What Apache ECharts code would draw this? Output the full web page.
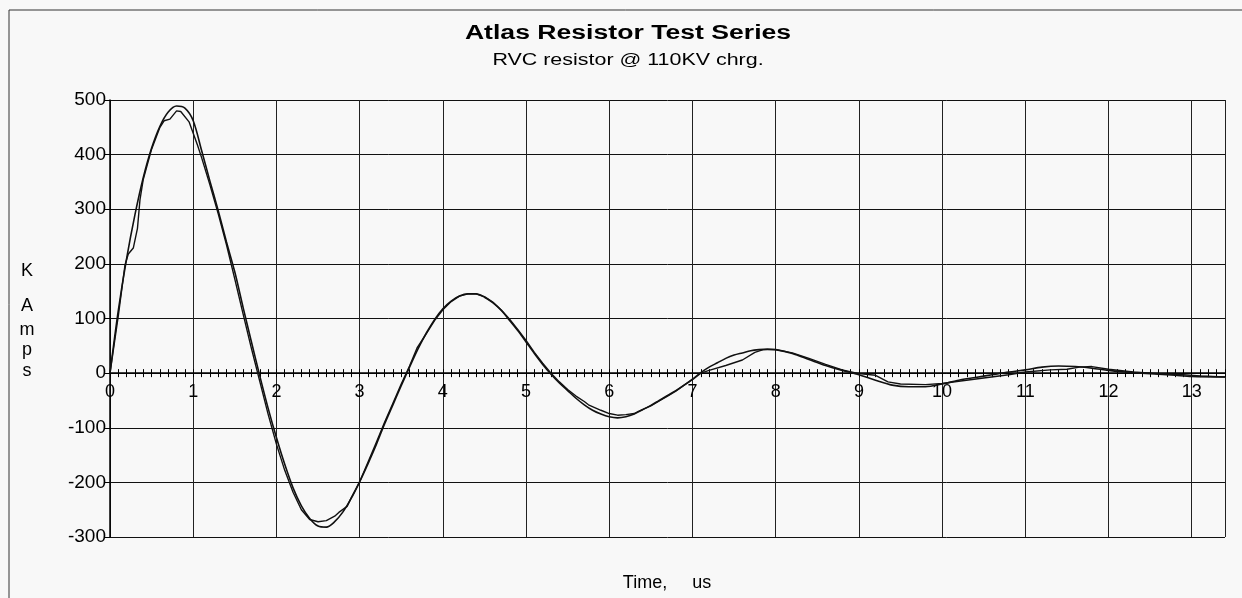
<!DOCTYPE html>
<html><head><meta charset="utf-8">
<script src="https://cdn.jsdelivr.net/npm/echarts@6/dist/echarts.min.js"></script>
<style>html,body{margin:0;padding:0;background:#f8f8f8}#c{width:1242px;height:598px}</style>
</head><body><div id="c"></div>
<script>
const titleText = 'Atlas Resistor Test Series';
const subtitleText = 'RVC resistor @ 110KV chrg.';
const xAxisName = 'Time,     us';
const yAxisNameLetters = ['K', 'A', 'm', 'p', 's'];
const yTickValues = [-300, -200, -100, 0, 100, 200, 300, 400, 500];
const xTickValues = [0, 1, 2, 3, 4, 5, 6, 7, 8, 9, 10, 11, 12, 13];

// Smooth (calculated) trace
const timeCalc = [0, 0.1, 0.2, 0.3, 0.4, 0.5, 0.6, 0.7, 0.8, 0.9,
  1.0, 1.1, 1.2, 1.3, 1.4, 1.5, 1.6, 1.7, 1.8, 1.9,
  2.0, 2.1, 2.2, 2.3, 2.4, 2.5, 2.6, 2.7, 2.8, 2.9,
  3.0, 3.1, 3.2, 3.3, 3.4, 3.5, 3.6, 3.7, 3.8, 3.9,
  4.0, 4.1, 4.2, 4.3, 4.4, 4.5, 4.6, 4.7, 4.8, 4.9,
  5.0, 5.1, 5.2, 5.3, 5.4, 5.5, 5.6, 5.7, 5.8, 5.9,
  6.0, 6.1, 6.2, 6.3, 6.4, 6.5, 6.6, 6.7, 6.8, 6.9,
  7.0, 7.1, 7.2, 7.3, 7.4, 7.5, 7.6, 7.7, 7.8, 7.9,
  8.0, 8.2, 8.4, 8.6, 8.8, 9.0, 9.2, 9.4, 9.6, 9.8,
  10.0, 10.2, 10.4, 10.6, 10.8, 11.0, 11.2, 11.4, 11.6, 11.8,
  12.0, 12.2, 12.4, 12.6, 12.8, 13.0, 13.4];
const ampsCalc = [0, 115, 210, 290, 358, 412, 452, 478, 489, 485,
  462, 408, 352, 298, 240, 185, 120, 57, -5, -64,
  -118, -167, -210, -243, -266, -280, -282, -272, -254, -229,
  -199, -166, -131, -93, -58, -23, 11, 44, 73, 98,
  118, 132, 141, 145, 145, 139, 129, 115, 97, 78,
  57, 36, 16, -2, -18, -32, -46, -58, -68, -75,
  -80, -82, -80, -75, -67, -59, -50, -41, -32, -22,
  -11, 1, 11, 19, 27, 33, 37, 41, 43, 44,
  43, 36, 25, 14, 5, -3, -13, -22, -25, -25,
  -20, -13, -8, -3, 2, 6, 11, 13, 12, 9,
  5, 2, 0, -2, -4, -6, -7];

// Measured trace (with kinks)
const timeMeas = [0, 0.1, 0.18, 0.22, 0.28, 0.33, 0.36, 0.4, 0.5, 0.6,
  0.65, 0.72, 0.8, 0.85, 0.95, 1.05, 1.1, 1.2, 1.3, 1.4,
  1.5, 1.6, 1.7, 1.8, 1.9, 2.0, 2.1, 2.2, 2.3, 2.4,
  2.5, 2.6, 2.7, 2.75, 2.85, 2.9, 3.0, 3.1, 3.2, 3.3,
  3.4, 3.5, 3.6, 3.69, 3.8, 3.9, 4.0, 4.1, 4.2, 4.3,
  4.4, 4.5, 4.6, 4.7, 4.8, 4.9, 5.0, 5.1, 5.2, 5.3,
  5.4, 5.5, 5.6, 5.7, 5.75, 5.9, 6.0, 6.1, 6.2, 6.3,
  6.35, 6.5, 6.6, 6.7, 6.8, 6.9, 7.0, 7.1, 7.2, 7.4,
  7.6, 7.75, 7.85, 8.0, 8.2, 8.4, 8.6, 8.8, 9.0, 9.2,
  9.35, 9.5, 9.8, 10.0, 10.2, 10.5, 10.8, 11.0, 11.3, 11.5,
  11.65, 11.8, 12.0, 12.3, 12.6, 12.9, 13.1, 13.4];
const ampsMeas = [0, 105, 198, 218, 229, 265, 317, 355, 410, 450,
  462, 465, 480, 479, 460, 418, 395, 345, 292, 235,
  172, 108, 45, -15, -75, -130, -178, -218, -250, -268,
  -272, -270, -262, -255, -244, -228, -199, -163, -127, -90,
  -55, -20, 13, 46, 72, 96, 116, 131, 141, 145,
  145, 140, 130, 116, 99, 80, 60, 38, 18, 0,
  -16, -30, -42, -52, -58, -68, -74, -77, -76, -74,
  -70, -60, -51, -42, -33, -22, -12, 0, 5, 14,
  24, 38, 43, 43, 37, 27, 16, 6, -1, -4,
  -16, -20, -21, -19, -15, -9, -3, 2, 6, 7,
  11, 12, 7, 2, -1, -3, -5, -7];

const FONT = '"Liberation Sans", Arial, sans-serif';
const chart = echarts.init(document.getElementById('c'), null, {renderer: 'canvas'});

const GRID = {left: 110, right: 17, top: 100, bottom: 61};
const yNamePos = [271, 306, 330, 350, 371];
const graphics = [
  {type: 'polyline', shape: {points: [[9, 600], [9, 10], [1242, 10]]}, style: {stroke: '#333', lineWidth: 1, fill: null}, silent: true},
  {type: 'text', x: 628, y: 33, scaleX: 1.33, style: {text: titleText, font: 'bold 20px ' + FONT, fill: '#000', align: 'center', verticalAlign: 'middle', textAlign: 'center', textVerticalAlign: 'middle'}},
  {type: 'text', x: 628, y: 61, scaleX: 1.34, style: {text: subtitleText, font: '16px ' + FONT, fill: '#000', align: 'center', verticalAlign: 'middle', textAlign: 'center', textVerticalAlign: 'middle'}},
  {type: 'text', x: 667, y: 583, style: {text: xAxisName, font: '18px ' + FONT, fill: '#000', align: 'center', verticalAlign: 'middle', textAlign: 'center', textVerticalAlign: 'middle'}}
];
yAxisNameLetters.forEach((ch, i) => {
  graphics.push({type: 'text', x: 27, y: yNamePos[i], style: {text: ch, font: '18px ' + FONT, fill: '#000', align: 'center', verticalAlign: 'middle', textAlign: 'center', textVerticalAlign: 'middle'}});
});

function xAxes(offset) {
  return [
    {
      type: 'value', position: 'bottom', offset: offset, min: 0, max: 13.4, interval: 1,
      axisLine: {show: true, onZero: false, lineStyle: {color: '#000', width: 1.5}},
      axisTick: {show: true, length: 4, lineStyle: {color: '#000', width: 1}},
      minorTick: {show: true, splitNumber: 10, length: 4, lineStyle: {color: '#000', width: 1}},
      axisLabel: {show: true, fontSize: 18, color: '#000', margin: 10, fontFamily: FONT, showMaxLabel: false,
        formatter: v => (xTickValues.indexOf(v) >= 0 ? String(v) : '')},
      splitLine: {show: true, lineStyle: {color: '#222', width: 1}},
      minorSplitLine: {show: false}
    },
    {
      type: 'value', position: 'bottom', offset: offset, min: 0, max: 13.4, interval: 1,
      axisLine: {show: false, onZero: false},
      axisTick: {show: true, inside: true, length: 4, lineStyle: {color: '#000', width: 1}},
      minorTick: {show: true, splitNumber: 10, length: 4, lineStyle: {color: '#000', width: 1}},
      axisLabel: {show: false},
      splitLine: {show: false}
    }
  ];
}

const option = {
  backgroundColor: '#f8f8f8',
  animation: false,
  textStyle: {fontFamily: FONT},
  grid: Object.assign({containLabel: false}, GRID),
  xAxis: xAxes(0),
  yAxis: {
    type: 'value', min: yTickValues[0], max: yTickValues[yTickValues.length - 1], interval: 100,
    axisLine: {show: true, onZero: false, lineStyle: {color: '#000', width: 1.5}},
    axisTick: {show: true, length: 5, lineStyle: {color: '#000', width: 1}},
    axisLabel: {fontSize: 19, color: '#000', margin: 4, fontFamily: FONT},
    splitLine: {show: true, lineStyle: {color: '#111', width: 1}}
  },
  series: [
    {type: 'line', name: 'Calculated', xAxisIndex: 0, showSymbol: false, smooth: 0.3,
      data: timeCalc.map((t, i) => [t, ampsCalc[i]]),
      lineStyle: {color: '#111', width: 1.6}, z: 3},
    {type: 'line', name: 'Measured', xAxisIndex: 0, showSymbol: false, smooth: false,
      data: timeMeas.map((t, i) => [t, ampsMeas[i]]),
      lineStyle: {color: '#111', width: 1.4}, z: 3}
  ],
  graphic: graphics
};
chart.setOption(option);
// Move the x axis (line, ticks, labels) up to the y = 0 level, as in the reference.
const zeroY = chart.convertToPixel({yAxisIndex: 0}, 0);
const bottomY = 598 - GRID.bottom;
chart.setOption({xAxis: xAxes(zeroY - bottomY)});
</script>
</body></html>
